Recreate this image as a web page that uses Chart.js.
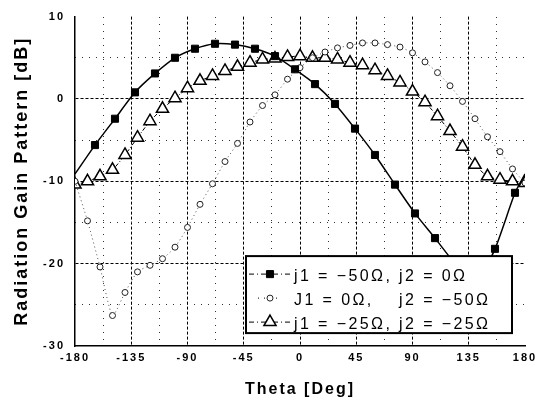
<!DOCTYPE html>
<html>
<head>
<meta charset="utf-8">
<script src="https://cdn.jsdelivr.net/npm/chart.js@4.4.0/dist/chart.umd.min.js"></script>
<style>
  html, body { margin: 0; padding: 0; background: #fff; }
</style>
</head>
<body>
<canvas id="c" width="544" height="411"></canvas>
<script>
// tick values
const thetaTicks = [-180, -135, -90, -45, 0, 45, 90, 135, 180];
const thetaMinor = [-157.5, -112.5, -67.5, -22.5, 22.5, 67.5, 112.5, 157.5];
const gainTicks = [10, 0, -10, -20, -30];
const gainMinor = [5, -5, -15, -25];

// j1 = -50, j2 = 0 (squares)
const sqTheta = [-180, -164, -148, -132, -116, -100, -84, -68, -52, -36, -20, -4,
  12, 28, 44, 60, 76, 92, 108, 124, 140, 156, 172, 180];
const sqGain = [-9.1, -5.6, -2.4, 0.8, 3.1, 5.0, 6.1, 6.7, 6.6, 6.1, 5.2, 3.6,
  1.8, -0.6, -3.6, -6.8, -10.4, -13.9, -16.9, -20.0, -22.5, -18.2, -11.4, -9.1];

// J1 = 0, j2 = -50 (open circles), and j1 = j2 = -25 (triangles), every 10 deg
const theta10 = [-180, -170, -160, -150, -140, -130, -120, -110, -100, -90, -80, -70, -60,
  -50, -40, -30, -20, -10, 0, 10, 20, 30, 40, 50, 60, 70, 80, 90, 100, 110, 120, 130,
  140, 150, 160, 170, 180];
const circGain = [-10.0, -14.8, -20.4, -26.3, -23.5, -21.0, -20.2, -19.4, -18.0, -15.6,
  -12.8, -10.3, -7.6, -5.4, -2.8, -0.8, 0.5, 2.4, 3.8, 5.0, 5.7, 6.2, 6.5, 6.8, 6.8,
  6.6, 6.3, 5.6, 4.5, 3.2, 1.6, -0.3, -2.4, -4.6, -6.4, -8.5, -10.2];
const triGain = [-10.4, -10.0, -9.4, -8.6, -6.8, -4.7, -2.7, -1.2, 0.1, 1.3, 2.2, 2.8,
  3.4, 3.9, 4.4, 4.8, 4.9, 5.1, 5.2, 5.0, 5.0, 4.8, 4.4, 4.1, 3.5, 2.8, 2.0, 0.9, -0.4,
  -2.1, -3.9, -5.8, -8.0, -9.4, -9.8, -10.0, -10.2];

const legendParts = [
  ['j1 = \u221250\u03A9,', 'j2 = 0\u03A9'],
  ['J1 = 0\u03A9,', 'j2 = \u221250\u03A9'],
  ['j1 = \u221225\u03A9,', 'j2 = \u221225\u03A9']
];
const legendDash = [[5, 3, 1, 3], [1, 5], [5, 3, 1, 3]];

const pts = (xs, ys) => xs.map((x, i) => ({ x, y: ys[i] }));

Chart.defaults.font.family = 'Arial, "Liberation Sans", Helvetica, sans-serif';
Chart.defaults.color = '#000';

const spacing = {
  id: 'spacing',
  beforeDraw(chart) { chart.ctx.letterSpacing = '2px'; }
};

const boxLegend = {
  id: 'boxLegend',
  afterDatasetsDraw(chart) {
    const { ctx, chartArea: a } = chart;
    const bx = a.left + 171, by = a.top + 239.5, bw = 266, bh = 77;
    ctx.save();
    ctx.setLineDash([]);
    ctx.fillStyle = '#fff';
    ctx.fillRect(bx, by, bw, bh);
    ctx.lineWidth = 2;
    ctx.strokeStyle = '#000';
    ctx.strokeRect(bx, by, bw, bh);
    ctx.font = '16px Arial, "Liberation Sans", sans-serif';
    ctx.letterSpacing = '2.4px';
    ctx.textBaseline = 'middle';
    const firstW = Math.max(...legendParts.map(p => ctx.measureText(p[0] + ' ').width));
    chart.data.datasets.forEach((ds, i) => {
      const y = by + 18 + i * 24;
      const mx = bx + 24;
      ctx.lineWidth = 1;
      ctx.strokeStyle = '#000';
      ctx.setLineDash(legendDash[i]);
      ctx.beginPath();
      ctx.moveTo(bx + (i === 1 ? 12 : 3), y);
      ctx.lineTo(bx + (i === 1 ? 36 : 45), y);
      ctx.stroke();
      ctx.setLineDash([]);
      ctx.fillStyle = ds.pointBackgroundColor;
      ctx.strokeStyle = ds.pointBorderColor;
      ctx.lineWidth = ds.pointBorderWidth;
      Chart.helpers.drawPoint(ctx, {
        pointStyle: ds.pointStyle, radius: ds.legendRadius,
        borderWidth: ds.pointBorderWidth, rotation: 0
      }, mx, y);
      ctx.fillStyle = '#000';
      ctx.fillText(legendParts[i][0], bx + 48, y + 2);
      ctx.fillText(legendParts[i][1], bx + 48 + firstW, y + 2);
    });
    ctx.restore();
  }
};

const edgeOr = (vals, col) => c => vals.includes(c.tick.value) ? 'rgba(0,0,0,0)' : col;

new Chart(document.getElementById('c'), {
  type: 'line',
  data: {
    datasets: [
      {
        label: legendParts[0].join(' '),
        data: pts(sqTheta, sqGain),
        borderColor: '#000', borderWidth: 1.5, tension: 0.2,
        pointStyle: 'rect', legendRadius: 5,
        pointRadius: c => (c.dataIndex === 0 || c.dataIndex === sqTheta.length - 1) ? 0 : 5,
        pointBackgroundColor: '#000', pointBorderColor: '#000', pointBorderWidth: 1
      },
      {
        label: legendParts[1].join(' '),
        data: pts(theta10, circGain),
        borderColor: '#555', borderWidth: 1, borderDash: [1, 3], tension: 0.2,
        pointStyle: 'circle', pointRadius: 3, legendRadius: 3,
        pointBackgroundColor: '#fff', pointBorderColor: '#222', pointBorderWidth: 1
      },
      {
        label: legendParts[2].join(' '),
        data: pts(theta10, triGain),
        borderColor: '#000', borderWidth: 1, borderDash: [4, 2, 1, 2], tension: 0.2,
        pointStyle: 'triangle', pointRadius: 7, legendRadius: 7,
        pointBackgroundColor: '#fff', pointBorderColor: '#000', pointBorderWidth: 1.5
      }
    ]
  },
  options: {
    responsive: false,
    animation: false,
    layout: { padding: { top: 12, right: 19, left: 0, bottom: 0 } },
    plugins: { legend: { display: false }, tooltip: { enabled: false } },
    scales: {
      x: {
        type: 'linear', position: 'bottom', min: -180, max: 180,
        afterBuildTicks: s => { s.ticks = thetaTicks.map(v => ({ value: v })); },
        afterFit: s => { s.height = 65; },
        ticks: { callback: v => String(v), font: { size: 11, weight: 'bold' }, padding: 5, maxRotation: 0, autoSkip: false },
        grid: { color: edgeOr([-180, 180], '#000'), lineWidth: 1, drawTicks: false },
        border: { color: '#000', width: 1.5, dash: [3, 2] },
        title: { display: true, text: 'Theta [Deg]', font: { size: 16, weight: 'bold' }, padding: { top: 0, bottom: 12 } }
      },
      y: {
        type: 'linear', position: 'left', min: -30, max: 10,
        afterBuildTicks: s => { s.ticks = gainTicks.map(v => ({ value: v })); },
        afterFit: s => { s.width = 75; },
        ticks: { callback: v => String(v), font: { size: 11, weight: 'bold' }, padding: 10 },
        grid: { color: edgeOr([10, -30], '#000'), lineWidth: 1, drawTicks: false },
        border: { color: '#000', width: 1.5, dash: [3, 2] },
        title: { display: true, text: 'Radiation Gain Pattern [dB]', font: { size: 18, weight: 'bold' }, padding: { top: 11, bottom: 0 } }
      },
      xm: {
        type: 'linear', position: 'top', min: -180, max: 180,
        afterBuildTicks: s => { s.ticks = thetaMinor.map(v => ({ value: v })); },
        afterFit: s => { s.height = 0; },
        ticks: { display: false },
        grid: { color: '#333', lineWidth: 1, drawTicks: false },
        border: { display: false, dash: [1, 6] }
      },
      ym: {
        type: 'linear', position: 'right', min: -30, max: 10,
        afterBuildTicks: s => { s.ticks = gainMinor.map(v => ({ value: v })); },
        afterFit: s => { s.width = 0; },
        ticks: { display: false },
        grid: { color: '#333', lineWidth: 1, drawTicks: false },
        border: { display: false, dash: [1, 6] }
      }
    }
  },
  plugins: [spacing, boxLegend]
});
</script>
</body>
</html>
